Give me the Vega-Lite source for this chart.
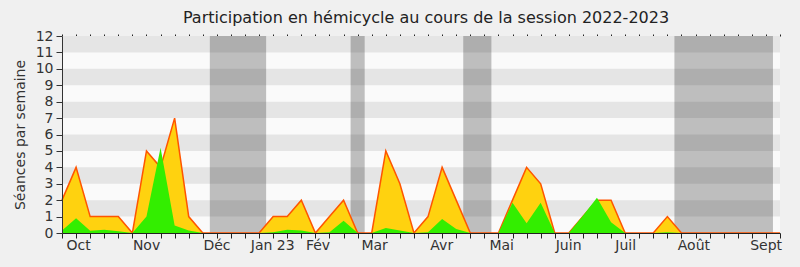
{
  "$schema": "https://vega.github.io/schema/vega-lite/v6.json",
  "width": 718,
  "height": 197,
  "autosize": {"type": "none"},
  "padding": {"left": 62, "top": 36, "right": 20, "bottom": 34},
  "background": "#f0f0f0",
  "view": {"fill": "#fafafa", "stroke": null},
  "config": {"font": "DejaVu Sans"},
  "title": {
    "text": "Participation en hémicycle au cours de la session 2022-2023",
    "font": "DejaVu Sans",
    "fontSize": 16,
    "fontWeight": "normal",
    "color": "#222222",
    "anchor": "middle",
    "frame": "group",
    "baseline": "alphabetic",
    "offset": -10,
    "dx": 5
  },
  "datasets": {
    "stripes": [
      {"lo": 1, "hi": 2}, {"lo": 3, "hi": 4}, {"lo": 5, "hi": 6},
      {"lo": 7, "hi": 8}, {"lo": 9, "hi": 10}, {"lo": 11, "hi": 12}
    ],
    "vacances": [
      {"debut": 10.5, "fin": 14.5},
      {"debut": 20.5, "fin": 21.5},
      {"debut": 28.5, "fin": 30.5},
      {"debut": 43.5, "fin": 50.5}
    ],
    "semaines": [
      {"semaine": 0, "total": 2, "hemicycle": 0.15},
      {"semaine": 1, "total": 4, "hemicycle": 0.9},
      {"semaine": 2, "total": 1, "hemicycle": 0.13},
      {"semaine": 3, "total": 1, "hemicycle": 0.2},
      {"semaine": 4, "total": 1, "hemicycle": 0.1},
      {"semaine": 5, "total": 0, "hemicycle": 0},
      {"semaine": 6, "total": 5, "hemicycle": 1.0},
      {"semaine": 7, "total": 4, "hemicycle": 5.2},
      {"semaine": 8, "total": 7, "hemicycle": 0.45},
      {"semaine": 9, "total": 1, "hemicycle": 0.15},
      {"semaine": 10, "total": 0, "hemicycle": 0},
      {"semaine": 11, "total": 0, "hemicycle": 0},
      {"semaine": 12, "total": 0, "hemicycle": 0},
      {"semaine": 13, "total": 0, "hemicycle": 0},
      {"semaine": 14, "total": 0, "hemicycle": 0},
      {"semaine": 15, "total": 1, "hemicycle": 0.05},
      {"semaine": 16, "total": 1, "hemicycle": 0.2},
      {"semaine": 17, "total": 2, "hemicycle": 0.15},
      {"semaine": 18, "total": 0, "hemicycle": 0},
      {"semaine": 19, "total": 1, "hemicycle": 0.05},
      {"semaine": 20, "total": 2, "hemicycle": 0.75},
      {"semaine": 21, "total": 0, "hemicycle": 0},
      {"semaine": 22, "total": 0, "hemicycle": 0},
      {"semaine": 23, "total": 5, "hemicycle": 0.3},
      {"semaine": 24, "total": 3, "hemicycle": 0.15},
      {"semaine": 25, "total": 0, "hemicycle": 0},
      {"semaine": 26, "total": 1, "hemicycle": 0.05},
      {"semaine": 27, "total": 4, "hemicycle": 0.85},
      {"semaine": 28, "total": 2, "hemicycle": 0.25},
      {"semaine": 29, "total": 0, "hemicycle": 0},
      {"semaine": 30, "total": 0, "hemicycle": 0},
      {"semaine": 31, "total": 0, "hemicycle": 0},
      {"semaine": 32, "total": 2, "hemicycle": 1.85},
      {"semaine": 33, "total": 4, "hemicycle": 0.6},
      {"semaine": 34, "total": 3, "hemicycle": 1.85},
      {"semaine": 35, "total": 0, "hemicycle": 0},
      {"semaine": 36, "total": 0, "hemicycle": 0},
      {"semaine": 37, "total": 1, "hemicycle": 1.05},
      {"semaine": 38, "total": 2, "hemicycle": 2.15},
      {"semaine": 39, "total": 2, "hemicycle": 0.65},
      {"semaine": 40, "total": 0, "hemicycle": 0},
      {"semaine": 41, "total": 0, "hemicycle": 0},
      {"semaine": 42, "total": 0, "hemicycle": 0},
      {"semaine": 43, "total": 1, "hemicycle": 0.05},
      {"semaine": 44, "total": 0, "hemicycle": 0},
      {"semaine": 45, "total": 0, "hemicycle": 0},
      {"semaine": 46, "total": 0, "hemicycle": 0},
      {"semaine": 47, "total": 0, "hemicycle": 0},
      {"semaine": 48, "total": 0, "hemicycle": 0},
      {"semaine": 49, "total": 0, "hemicycle": 0},
      {"semaine": 50, "total": 0, "hemicycle": 0},
      {"semaine": 51, "total": 0, "hemicycle": 0}
    ]
  },
  "resolve": {"axis": {"x": "independent", "y": "independent"}},
  "layer": [
    {
      "data": {"name": "stripes"},
      "mark": {"type": "rect", "color": "#e5e5e5"},
      "encoding": {
        "y": {
          "field": "lo", "type": "quantitative",
          "scale": {"domain": [0, 12], "nice": false, "zero": true},
          "axis": {
            "orient": "left",
            "title": "Séances par semaine",
            "titleFont": "DejaVu Sans", "titleFontSize": 14, "titleFontWeight": "normal",
            "titleColor": "#333333", "titlePadding": 8,
            "values": [0,1,2,3,4,5,6,7,8,9,10,11,12],
            "labelFont": "DejaVu Sans", "labelFontSize": 14, "labelColor": "#333333",
            "labelPadding": 3, "tickSize": 6, "tickColor": "#333333",
            "domainColor": "#333333", "grid": false, "zindex": 1
          }
        },
        "y2": {"field": "hi"}
      }
    },
    {
      "data": {"name": "vacances"},
      "mark": {"type": "rect", "color": "#000000", "opacity": 0.24},
      "encoding": {
        "x": {
          "field": "debut", "type": "quantitative",
          "scale": {"domain": [0, 51], "nice": false, "zero": false},
          "axis": {
            "orient": "bottom", "title": null, "labels": false,
            "values": [0,1,2,3,4,5,6,7,8,9,10,11,12,13,14,15,16,17,18,19,20,21,22,23,24,25,26,27,28,29,30,31,32,33,34,35,36,37,38,39,40,41,42,43,44,45,46,47,48,49,50,51],
            "tickSize": 5, "tickColor": "#222222", "domainColor": "#222222", "grid": false, "zindex": 1
          }
        },
        "x2": {"field": "fin"}
      }
    },
    {
      "data": {"name": "semaines"},
      "mark": {"type": "area", "color": "#ffd20f", "interpolate": "linear"},
      "encoding": {
        "x": {
          "field": "semaine", "type": "quantitative",
          "scale": {"domain": [0, 51], "nice": false, "zero": false},
          "axis": {
            "orient": "bottom", "title": null,
            "values": [1.14, 5.97, 10.97, 14.93, 18.15, 22.17, 26.94, 31.2, 35.95, 40, 44.85, 49.98],
            "labelExpr": "['Oct','Nov','Déc','Jan 23','Fév','Mar','Avr','Mai','Juin','Juil','Août','Sept'][indexof([1.14,5.97,10.97,14.93,18.15,22.17,26.94,31.2,35.95,40,44.85,49.98], datum.value)]",
            "labelFont": "DejaVu Sans", "labelFontSize": 14, "labelColor": "#333333",
            "labelPadding": 5, "ticks": false, "tickSize": 0, "domain": false,
            "labelOverlap": false, "labelFlush": false, "grid": false
          }
        },
        "y": {"field": "total", "type": "quantitative", "scale": {"domain": [0, 12], "nice": false}, "axis": null}
      }
    },
    {
      "data": {"name": "semaines"},
      "mark": {"type": "line", "color": "#ff5500", "strokeWidth": 1.5, "interpolate": "linear"},
      "encoding": {
        "x": {
          "field": "semaine", "type": "quantitative",
          "scale": {"domain": [0, 51], "nice": false, "zero": false},
          "axis": {
            "orient": "top", "title": null, "labels": false, "domain": false,
            "values": [0,1,2,3,4,5,6,7,8,9,10,11,12,13,14,15,16,17,18,19,20,21,22,23,24,25,26,27,28,29,30,31,32,33,34,35,36,37,38,39,40,41,42,43,44,45,46,47,48,49,50,51],
            "tickSize": 2, "tickColor": "#222222", "grid": false
          }
        },
        "y": {"field": "total", "type": "quantitative", "scale": {"domain": [0, 12], "nice": false}, "axis": null}
      }
    },
    {
      "data": {"name": "semaines"},
      "mark": {"type": "area", "color": "#33ee00", "interpolate": "linear"},
      "encoding": {
        "x": {
          "field": "semaine", "type": "quantitative",
          "scale": {"domain": [0, 51], "nice": false, "zero": false},
          "axis": null
        },
        "y": {"field": "hemicycle", "type": "quantitative", "scale": {"domain": [0, 12], "nice": false}, "axis": null}
      }
    }
  ]
}
